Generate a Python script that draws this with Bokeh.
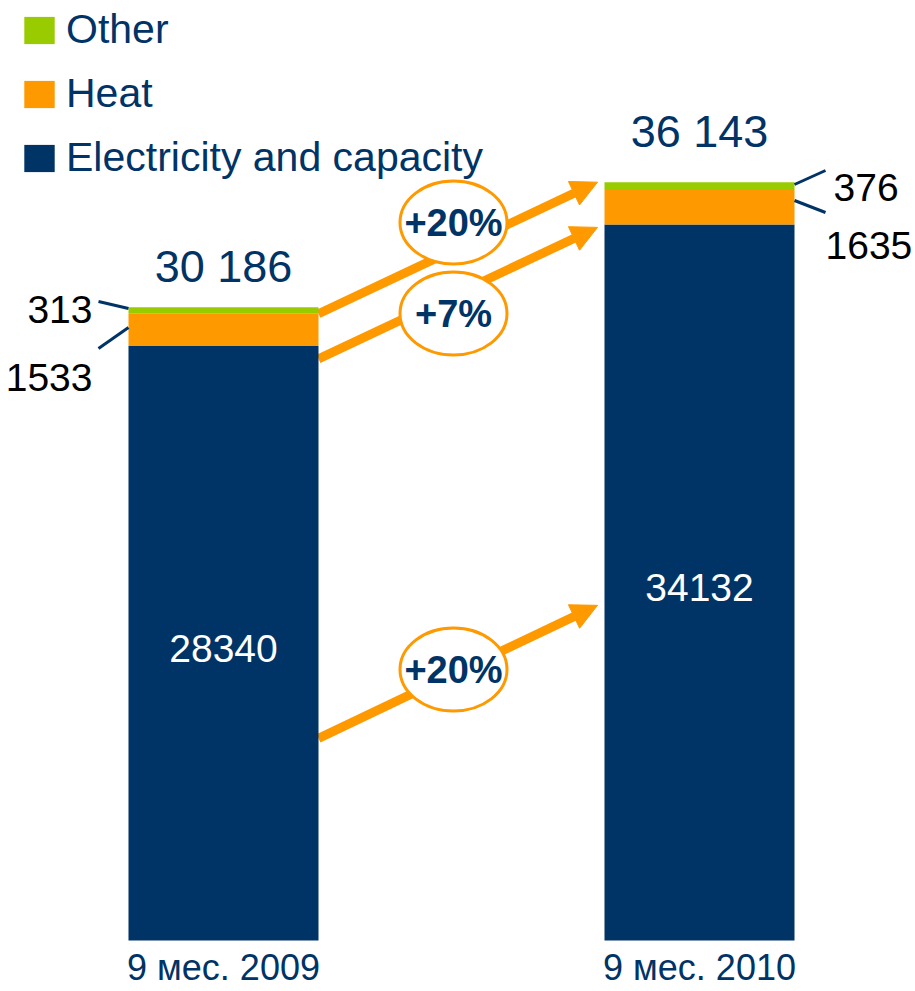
from bokeh.plotting import figure
from bokeh.models import Range1d, Arrow, NormalHead, Legend, LegendItem, ColumnDataSource
from bokeh.core.properties import value
from bokeh.embed import file_html
from bokeh.resources import INLINE

# ---------------- data ----------------
periods = ["9 мес. 2009", "9 мес. 2010"]
electricity = [28340, 34132]
heat = [1533, 1635]
other = [313, 376]
series_names = ["Electricity and capacity", "Heat", "Other"]
growth_other = "+20%"
growth_heat = "+7%"
growth_electricity = "+20%"

# ---------------- style ----------------
NAVY = "#003366"
ORANGE = "#FF9900"
GREEN = "#99CC00"
SANS = "Liberation Sans"

W, H = 915, 991
BASE = 940            # pixel row of the value axis zero
K = 0.020981          # pixels per unit
GAP = 476             # pixels between bar centres
X0 = 223              # pixel column of first bar centre

def sx(px):
    return (px - X0) / GAP

def sy(py):
    return (BASE - py) / K

x = list(range(len(periods)))
totals = [e + h + o for e, h, o in zip(electricity, heat, other)]
bar_w = 190 / GAP
half = bar_w / 2

p = figure(width=W, height=H, x_range=Range1d(sx(0), sx(W)), y_range=Range1d(sy(H), sy(0)),
           output_backend="svg", toolbar_location=None, min_border=0,
           x_axis_type=None, y_axis_type=None)
p.grid.visible = False
p.outline_line_color = None
p.background_fill_color = "white"
p.border_fill_color = "white"

src = ColumnDataSource(dict(x=x, elec=electricity, heat=heat, other=other))
rs = p.vbar_stack(["elec", "heat", "other"], x="x", width=bar_w, color=[NAVY, ORANGE, GREEN],
                  line_color=None, source=src)

LEG_FS = 41
item_h = LEG_FS * 1.15
spacing = 64.5 - item_h
leg_h = 3 * item_h + 2 * spacing
leg_top = 28 - item_h / 2
legend = Legend(items=[LegendItem(label=series_names[2], renderers=[rs[2]]),
                       LegendItem(label=series_names[1], renderers=[rs[1]]),
                       LegendItem(label=series_names[0], renderers=[rs[0]])],
                location=(20, int(round(H - leg_top - leg_h))), margin=0, padding=0,
                spacing=int(round(spacing)),
                glyph_width=38, glyph_height=34, label_standoff=8,
                label_text_font=SANS, label_text_font_size=f"{LEG_FS}px", label_text_color=NAVY,
                border_line_color=None, background_fill_alpha=0)
p.add_layout(legend, "center")

# growth arrows (from segment on bar 1 to same segment on bar 2)
x_a0 = x[0] + half
x_a1 = x[1] - half - 7 / GAP
arrows = [
    (electricity[0] + heat[0], totals[1]),
    (electricity[0] - 13 / K, electricity[1] - 3 / K),
    (electricity[0] * 0.34, electricity[1] * 0.468),
]
for y0, y1 in arrows:
    p.add_layout(Arrow(x_start=x_a0, y_start=y0, x_end=x_a1, y_end=y1,
                       line_color=ORANGE, line_width=9, level="underlay",
                       end=NormalHead(size=26, fill_color=ORANGE, line_color=ORANGE, line_width=1)))

# ellipses with growth labels
ex = [sx(453)] * 3
ey = [sy(222), sy(313), sy(669)]
p.ellipse(x=ex, y=ey, width=107, height=83, width_units="screen", height_units="screen",
          fill_color="white", line_color=ORANGE, line_width=3)
p.text(x=ex, y=ey, text=[growth_other, growth_heat, growth_electricity],
       text_font=value(SANS), text_font_style="bold", text_font_size="38px",
       text_align="center", text_baseline="middle", text_color=NAVY)

# totals above bars
p.text(x=x, y=[sy(266), sy(131)], text=[f"{t:,}".replace(",", " ") for t in totals],
       text_font=value(SANS), text_font_size="45px", text_align="center",
       text_baseline="middle", text_color=NAVY)

# electricity values inside bars
p.text(x=x, y=[sy(648), sy(587)], text=[str(v) for v in electricity],
       text_font=value(SANS), text_font_size="39px", text_align="center",
       text_baseline="middle", text_color="white")

# leader lines for small segments
lx_l = x[0] - half
lx_r = x[1] + half
p.segment(x0=[sx(98), sx(98), lx_r, lx_r], y0=[sy(301), sy(348), sy(184), sy(200)],
          x1=[lx_l, lx_l, sx(825), sx(825)], y1=[sy(308), sy(327), sy(170), sy(212)],
          line_color=NAVY, line_width=3)

p.text(x=[sx(92), sx(92)], y=[sy(309), sy(377)], text=[str(other[0]), str(heat[0])],
       text_font=value(SANS), text_font_size="39px", text_align="right",
       text_baseline="middle", text_color="black")
p.text(x=[sx(833), sx(825)], y=[sy(187), sy(245)], text=[str(other[1]), str(heat[1])],
       text_font=value(SANS), text_font_size="39px", text_align="left",
       text_baseline="middle", text_color="black")

# category labels
p.text(x=x, y=[sy(967)] * 2, text=periods,
       text_font=value(SANS), text_font_size="36px", text_align="center",
       text_baseline="middle", text_color=NAVY)

open("out.html", "w").write(file_html(p, INLINE))
